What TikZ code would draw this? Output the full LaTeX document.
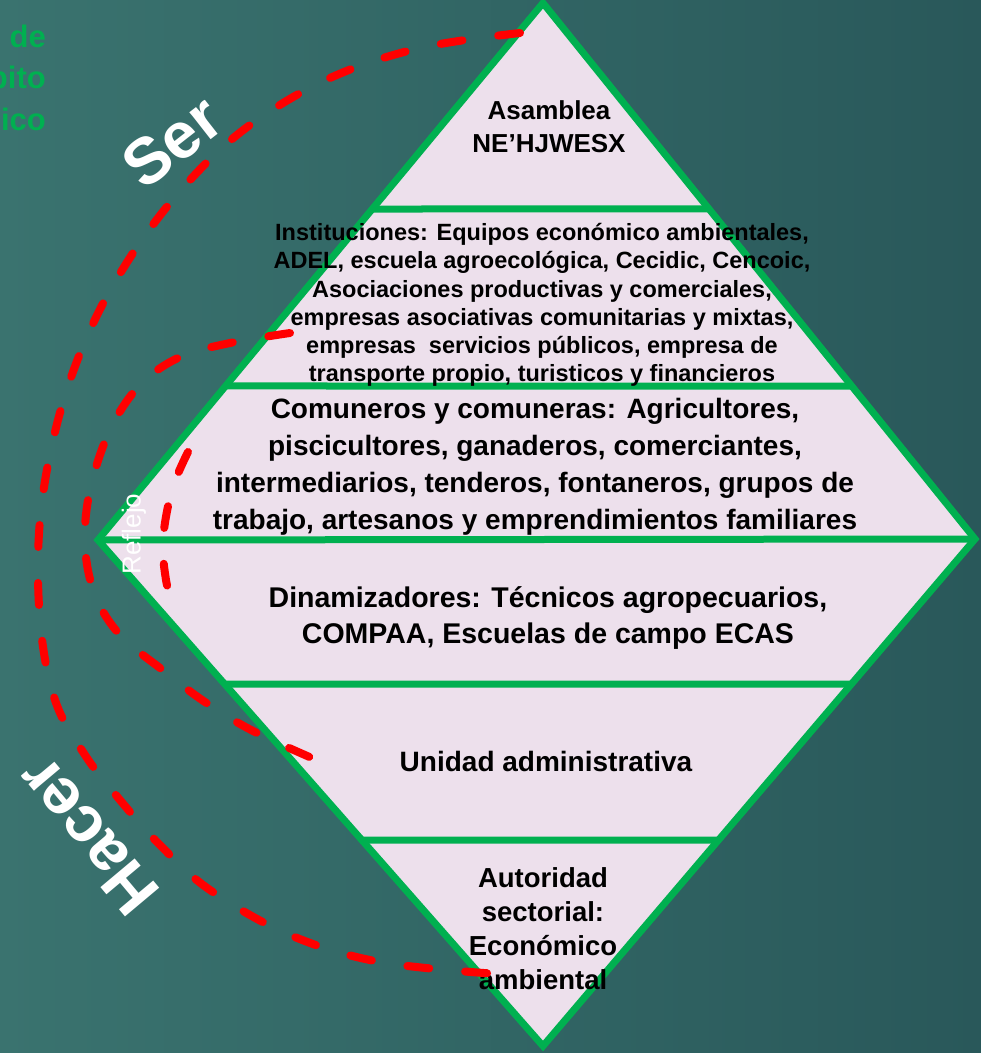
\documentclass[tikz,border=0pt]{standalone}
\usepackage{fontspec}
\setmainfont{Liberation Sans}
\usetikzlibrary{calc}
\definecolor{bandfill}{HTML}{EDE0EC}
\definecolor{bandgreen}{HTML}{00B050}
\definecolor{arcred}{HTML}{FF0000}
\definecolor{bgleft}{HTML}{3A736F}
\definecolor{bgright}{HTML}{29585A}
\begin{document}
\begin{tikzpicture}[x=1pt,y=-1pt,
  edge/.style={draw=bandgreen,line width=7pt},
  lbl/.style={align=center,text=black,inner sep=0pt,font=\bfseries\fontsize{28}{37}\selectfont},
  arcline/.style={draw=arcred,line width=8pt,line cap=round,dash pattern=on 22pt off 36pt},
  bigword/.style={text=white,inner sep=0pt,font=\bfseries\fontsize{65}{70}\selectfont},
  sideword/.style={text=bandgreen,inner sep=0pt,anchor=base east,font=\bfseries\fontsize{31}{42}\selectfont}
]
\useasboundingbox (0,0) rectangle (981,1053);
\shade[left color=bgleft,right color=bgright] (0,0) rectangle (981,1053);

% diamond corners
\coordinate (T) at (543,3);
\coordinate (L) at (98,540);
\coordinate (R) at (975,539);
\coordinate (B) at (543,1046);
% band levels
\coordinate (l1) at ($(T)!0.3836!(L)$);
\coordinate (r1) at ($(T)!0.3843!(R)$);
\coordinate (l2) at ($(T)!0.7132!(L)$);
\coordinate (r2) at ($(T)!0.7146!(R)$);
\coordinate (l4) at ($(L)!0.2846!(B)$);
\coordinate (r4) at ($(R)!0.2860!(B)$);
\coordinate (l5) at ($(L)!0.5929!(B)$);
\coordinate (r5) at ($(R)!0.5937!(B)$);

\fill[bandfill] (T) -- (R) -- (B) -- (L) -- cycle;
\draw[edge] (l1) -- (r1);
\draw[edge] (l2) -- (r2);
\draw[edge] (L) -- (R);
\draw[edge] (l4) -- (r4);
\draw[edge] (l5) -- (r5);
\draw[edge,line join=miter] (T) -- (R) -- (B) -- (L) -- cycle;

% labels
\node[lbl,font=\bfseries\fontsize{26}{33}\selectfont] (asam) at (549,127) {Asamblea\\NE’HJWESX};
\node[lbl,font=\bfseries\fontsize{23.5}{28.2}\selectfont] (inst) at (542,305)
  {Instituciones: Equipos económico ambientales,\\ADEL, escuela agroecológica, Cecidic, Cencoic,\\Asociaciones productivas y comerciales,\\empresas asociativas comunitarias y mixtas,\\empresas\ \ servicios públicos, empresa de\\transporte propio, turisticos y financieros};
\node[lbl] (comu) at (535,467)
  {Comuneros y comuneras: Agricultores,\\piscicultores, ganaderos, comerciantes,\\intermediarios, tenderos, fontaneros, grupos de\\trabajo, artesanos y emprendimientos familiares};
\node[lbl,font=\bfseries\fontsize{28.5}{36}\selectfont] (dina) at (548,618)
  {Dinamizadores: Técnicos agropecuarios,\\COMPAA, Escuelas de campo ECAS};
\node[lbl] (unid) at (546,761) {Unidad administrativa};
\node[lbl,font=\bfseries\fontsize{27.5}{34}\selectfont] (auto) at (543,929)
  {Autoridad\\sectorial:\\Económico\\ambiental};

% red arcs
\draw[arcline] plot[smooth,tension=0.6] coordinates {(520,33) (420,48) (330,78) (250,125) (190,180) (135,250) (90,330) (58,420) (40,520) (40,620) (55,700) (85,755) (120,800) (160,845) (210,890) (290,935) (380,962) (498,974)};
\draw[arcline] plot[smooth,tension=0.6] coordinates {(290,333) (230,343) (180,357) (140,385) (110,430) (90,490) (85,545) (95,595) (120,635) (160,668) (205,702) (255,732) (328,765)};
\draw[arcline] plot[smooth,tension=0.6] coordinates {(188,452) (172,490) (163,540) (166,580) (172,600)};

% side words
\node[bigword,rotate=38] (ser) at (172,142) {Ser};
\node[bigword,rotate=130] (hacer) at (88,836) {Hacer};
\node[text=white,inner sep=0pt,rotate=90,font=\fontsize{26}{30}\selectfont] (refl) at (134,534) {Reflejo};

\node[sideword] (t1) at (46,47) {de};
\node[sideword] (t2) at (46,88) {bito};
\node[sideword] (t3) at (46,130) {ico};
\end{tikzpicture}
\end{document}
